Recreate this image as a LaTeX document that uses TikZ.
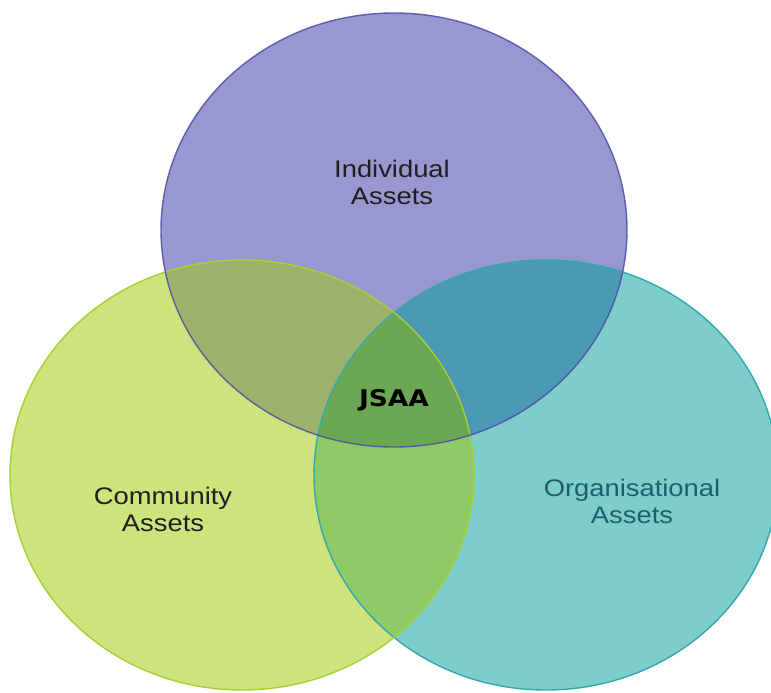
\documentclass[tikz,border=0pt]{standalone}
\usepackage{fontspec}
\setmainfont{Liberation Sans}
\newfontfamily\setfont[FakeStretch=1.14]{Liberation Sans}
\newfontfamily\corefont[FakeStretch=1.15]{DejaVu Sans}
\definecolor{indFill}{HTML}{9997D0}
\definecolor{indLine}{HTML}{4E4BA4}
\definecolor{comFill}{HTML}{CFE37D}
\definecolor{comLine}{HTML}{A8CF33}
\definecolor{orgFill}{HTML}{7ECDCD}
\definecolor{orgLine}{HTML}{33A8AC}
\definecolor{indCom}{HTML}{9CB26A}
\definecolor{indOrg}{HTML}{4A9AB5}
\definecolor{comOrg}{HTML}{8ECB66}
\definecolor{allThree}{HTML}{6CA854}
\definecolor{orgText}{HTML}{1F5E6A}
\tikzset{
  setlabel/.style={align=center, inner sep=0pt, font=\setfont\fontsize{24}{27}\selectfont, text=black!88},
  corelabel/.style={inner sep=0pt, font=\corefont\bfseries\fontsize{23}{26}\selectfont, text=black}
}
\def\indSet{(394,230) ellipse [x radius=233, y radius=217]}
\def\comSet{(242,475) ellipse [x radius=232, y radius=215]}
\def\orgSet{(546,475) ellipse [x radius=232, y radius=215]}
\begin{document}
\begin{tikzpicture}[x=1pt, y=-1pt]
  \useasboundingbox (0,0) rectangle (771,693);
  \fill[white] (0,0) rectangle (771,693);
  \begin{scope}
    \clip (0,0) rectangle (771,693);
    % the three sets
    \fill[indFill] \indSet;
    \fill[comFill] \comSet;
    \fill[orgFill] \orgSet;
    % pairwise overlaps
    \begin{scope}\clip \indSet; \fill[indCom] \comSet; \end{scope}
    \begin{scope}\clip \indSet; \fill[indOrg] \orgSet; \end{scope}
    \begin{scope}\clip \comSet; \fill[comOrg] \orgSet; \end{scope}
    % common core
    \begin{scope}\clip \indSet; \clip \comSet; \fill[allThree] \orgSet; \end{scope}
    % outlines
    \draw[orgLine, line width=1.4pt] \orgSet;
    \draw[comLine, line width=1.4pt] \comSet;
    \draw[indLine, line width=1.4pt, draw opacity=0.85] \indSet;
  \end{scope}
  % labels
  \node[setlabel] (ind) at (392,182.5) {Individual\\Assets};
  \node[setlabel] (com) at (163,509) {Community\\Assets};
  \node[setlabel, text=orgText] (org) at (632,501.5) {Organisational\\Assets};
  \node[corelabel] (core) at (394,400.5) {JSAA};
\end{tikzpicture}
\end{document}
